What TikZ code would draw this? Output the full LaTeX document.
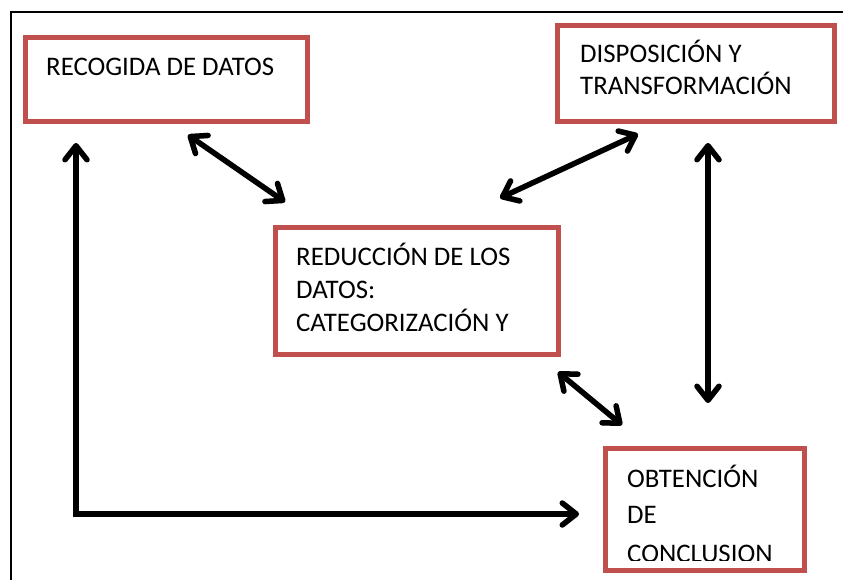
\documentclass[tikz,border=0pt]{standalone}
\usepackage{fontspec}
\setmainfont{Carlito}
\usetikzlibrary{arrows.meta}
\definecolor{boxred}{RGB}{192,80,77}
\tikzset{
  box/.style={draw=boxred, line width=5pt, inner sep=0pt, outer sep=0pt, fill=white},
  lbl/.style={anchor=base west, inner sep=0pt, font=\fontsize{26.8}{32}\selectfont},
  conn/.style={line width=5.5pt, black,
     {Straight Barb[length=14pt, width=22pt, line cap=round, line join=round]}-{Straight Barb[length=14pt, width=22pt, line cap=round, line join=round]}},
  connshadow/.style={conn, draw=black!25, opacity=0.5, shift={(1.5,2.5)}},
  frame/.style={line width=2pt, black}
}
\begin{document}
\begin{tikzpicture}[x=1pt, y=-1pt]
\useasboundingbox (0,0) rectangle (843,580);
\fill[white] (0,0) rectangle (843,580);
% outer frame (top and left only)
\coordinate (fA) at (843,12);
\coordinate (fB) at (11,12);
\coordinate (fC) at (11,580);
\draw[line width=2pt, black!15, shift={(1.5,2)}] (fA) -- (fB) -- (fC);
\draw[frame] (fA) -- (fB) -- (fC);

% boxes
\node[box, minimum width=282pt, minimum height=84pt, anchor=north west] (rec) at (25.5,37.5) {};
\node[box, minimum width=277pt, minimum height=96pt, anchor=north west] (dis) at (557.5,25.5) {};
\node[box, minimum width=283pt, minimum height=127pt, anchor=north west] (red) at (275.5,227.5) {};
\node[box, minimum width=199pt, minimum height=122pt, anchor=north west] (obt) at (605.5,448.5) {};

% texts
\node[lbl] (t1) at (46,76) {RECOGIDA DE DATOS};
\node[lbl] (t2a) at (580,63) {DISPOSICIÓN Y};
\node[lbl] (t2b) at (580,95) {TRANSFORMACIÓN};
\node[lbl] (t3a) at (296,265) {REDUCCIÓN DE LOS};
\node[lbl] (t3b) at (296,298) {DATOS:};
\node[lbl] (t3c) at (296,331) {CATEGORIZACIÓN Y};
\node[lbl] (t4a) at (627,487) {OBTENCIÓN};
\node[lbl] (t4b) at (627,523) {DE};
\begin{scope}
\clip (600,530) rectangle (810,560);
\node[lbl] (t4c) at (627,562) {CONCLUSION};
\end{scope}

% connector end points
\coordinate (a1s) at (188,135);
\coordinate (a1e) at (285,202);
\coordinate (a2s) at (500,198);
\coordinate (a2e) at (638,134);
\coordinate (a3s) at (708,143);
\coordinate (a3e) at (708,403);
\coordinate (a4s) at (558,372);
\coordinate (a4e) at (622,425);
\coordinate (a5s) at (76,143);
\coordinate (a5c) at (76,514);
\coordinate (a5e) at (579,514);

\foreach \s/\e in {a1s/a1e, a2s/a2e, a3s/a3e, a4s/a4e}
  \draw[connshadow] (\s) -- (\e);
\draw[connshadow] (a5s) -- (a5c) -- (a5e);

\draw[conn] (a1s) -- (a1e);
\draw[conn] (a2s) -- (a2e);
\draw[conn] (a3s) -- (a3e);
\draw[conn] (a4s) -- (a4e);
\draw[conn] (a5s) -- (a5c) -- (a5e);
\end{tikzpicture}
\end{document}
